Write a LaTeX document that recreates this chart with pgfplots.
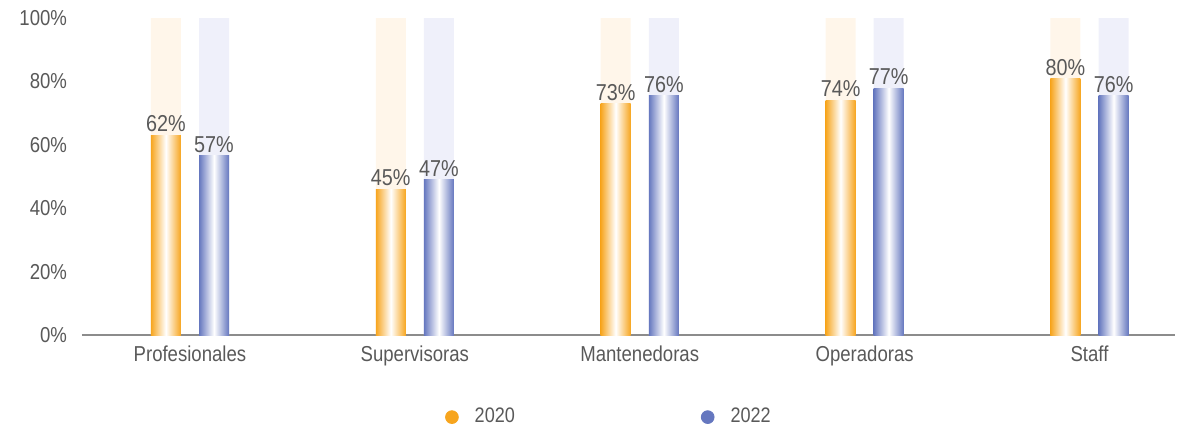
\documentclass[border=0pt]{standalone}
\usepackage{pgfplots}
\pgfplotsset{compat=1.18}
\usepackage{fontspec}
\setmainfont{Liberation Sans}[FakeStretch=0.86]
\definecolor{naranja}{HTML}{F7A51E}
\definecolor{azul}{HTML}{6577BF}
\definecolor{naranjaclaro}{HTML}{FFF6EA}
\definecolor{azulclaro}{HTML}{EFF0FA}
\definecolor{texto}{HTML}{595959}
\definecolor{eje}{HTML}{8C8C8C}

\pgfplotsset{
  fondo/.style={ybar, bar width=15pt, bar shift=0pt, draw=none, forget plot},
  valor/.style={ybar, bar width=15pt, bar shift=0pt, draw=none, forget plot,
    left color=#1, right color=#1, middle color=white,
    point meta=explicit symbolic, nodes near coords,
    nodes near coords style={font=\fontsize{11.5}{14}\selectfont, text=texto, inner sep=1.5pt, anchor=south}},
}

\begin{document}
\begin{tikzpicture}
\useasboundingbox (-41pt,-47.5pt) rectangle (554pt,167.5pt);
\begin{axis}[
  at={(0,0)}, anchor=south west,
  scale only axis,
  width=546.5pt, height=158.5pt,
  xmin=-0.48, xmax=4.38,
  ymin=0, ymax=100,
  ytick={0,20,...,100},
  yticklabel={\pgfmathprintnumber{\tick}\%},
  xtick={0,1,2,3,4},
  xticklabels={Profesionales, Supervisoras, Mantenedoras, Operadoras, Staff},
  /pgf/number format/assume math mode=true,
  axis x line*=bottom,
  axis y line*=left,
  y axis line style={draw=none},
  x axis line style={eje, line width=0.6pt, -},
  major tick length=0pt,
  tick label style={font=\fontsize{10.8}{12}\selectfont, text=texto},
  yticklabel style={xshift=-4pt},
  xticklabel style={yshift=-2pt},
  clip=false,
  legend style={
    at={(0.483,-0.259)}, anchor=center,
    draw=none, fill=none,
    legend columns=2,
    font=\fontsize{10.5}{12}\selectfont,
    text=texto,
    /tikz/every odd column/.append style={column sep=6pt},
    /tikz/every even column/.append style={column sep=91pt},
  },
  legend image code/.code={\fill[#1] (0cm,0cm) circle (3.2pt);},
  legend cell align=left,
]
% fondo 100%
\addplot[fondo, fill=naranjaclaro] coordinates {(-0.107,100) (0.893,100) (1.893,100) (2.893,100) (3.893,100)};
\addplot[fondo, fill=azulclaro] coordinates {(0.107,100) (1.107,100) (2.107,100) (3.107,100) (4.107,100)};
% 2020
\addplot[valor=naranja] coordinates {(-0.107,63) [62\%]};
\addplot[valor=naranja] coordinates {(0.893,46) [45\%]};
\addplot[valor=naranja] coordinates {(1.893,72.9) [73\%]};
\addplot[valor=naranja] coordinates {(2.893,74.1) [74\%]};
\addplot[valor=naranja] coordinates {(3.893,80.8) [80\%]};
% 2022
\addplot[valor=azul] coordinates {(0.107,56.5) [57\%]};
\addplot[valor=azul] coordinates {(1.107,49) [47\%]};
\addplot[valor=azul] coordinates {(2.107,75.4) [76\%]};
\addplot[valor=azul] coordinates {(3.107,77.9) [77\%]};
\addplot[valor=azul] coordinates {(4.107,75.4) [76\%]};
\addlegendimage{color=naranja}
\addlegendentry{2020}
\addlegendimage{color=azul}
\addlegendentry{2022}
\end{axis}
\end{tikzpicture}
\end{document}
